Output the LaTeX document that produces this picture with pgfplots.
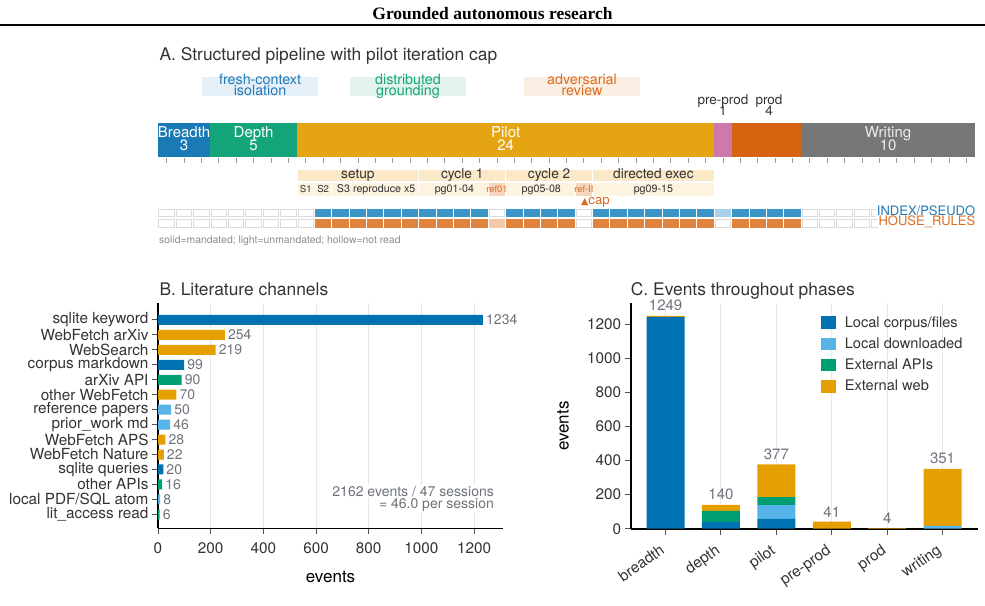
\documentclass[border=0pt]{standalone}
\usepackage{fontspec}
\setmainfont{TeX Gyre Heros}
\newfontfamily\titlefont{Liberation Serif}
\newfontfamily\symfont{DejaVu Sans}
\usepackage{pgfplots}
\pgfplotsset{compat=1.18}
\newcommand{\fsz}[2]{\fontsize{#1pt}{#2pt}\selectfont}
\definecolor{dark}{HTML}{333333}
\definecolor{valgray}{HTML}{6E737B}
\definecolor{notegray}{HTML}{8C8C8C}
\definecolor{gridgray}{HTML}{E6E8EC}
\definecolor{tickgray}{HTML}{555555}
\definecolor{atick}{HTML}{9A9A9A}
\definecolor{cBlue}{HTML}{0072B2}
\definecolor{cLBlue}{HTML}{56B4E9}
\definecolor{cGreen}{HTML}{009E73}
\definecolor{cOrange}{HTML}{E69F00}
\definecolor{pBreadth}{HTML}{1B79B5}
\definecolor{pDepth}{HTML}{14A47A}
\definecolor{pPilot}{HTML}{E5A512}
\definecolor{pPre}{HTML}{CD7AAB}
\definecolor{pProd}{HTML}{D6640F}
\definecolor{pWrite}{HTML}{777777}
\definecolor{tBlue}{HTML}{3C94C7}
\definecolor{tLBlue}{HTML}{A8D0E8}
\definecolor{tOrange}{HTML}{E0833D}
\definecolor{tLOrange}{HTML}{F2CAAB}
\definecolor{hollow}{HTML}{D8DBE0}
\definecolor{lblBlue}{HTML}{2179B6}
\definecolor{lblGreen}{HTML}{17A57B}
\definecolor{lblOrange}{HTML}{DD6B1F}
\definecolor{boxBlue}{HTML}{E5EFF7}
\definecolor{boxGreen}{HTML}{E2F3EE}
\definecolor{boxOrange}{HTML}{FBEEE3}
\definecolor{hdr}{HTML}{FAE8C6}
\definecolor{subr}{HTML}{FDF3DF}
\definecolor{refc}{HTML}{F6D6BD}

\pgfdeclareplotmark{tileS}{\pgfpathrectangle{\pgfqpoint{-8.2pt}{-4.2pt}}{\pgfqpoint{16.4pt}{8.4pt}}\pgfusepathqfill}
\pgfdeclareplotmark{tileH}{\pgfpathrectangle{\pgfqpoint{-7.7pt}{-3.7pt}}{\pgfqpoint{15.4pt}{7.4pt}}\pgfusepathqfillstroke}

\pgfplotsset{/pgf/number format/.cd, 1000 sep={}, assume math mode=true}
\pgfplotsset{sq/.style={legend image code/.code={\fill[#1] (0pt,-6.3pt) rectangle (14.6pt,6.3pt);}}}

\newcommand{\rect}[5]{\addplot[#5] coordinates {(#1,#3) (#2,#3) (#2,#4) (#1,#4)} --cycle;}

\begin{document}
\begin{tikzpicture}
\useasboundingbox (0pt,0pt) rectangle (985pt,605pt);
\node[anchor=base, inner sep=0, font=\titlefont\bfseries\fsz{17.5}{20}] at (492.5pt,585pt) {Grounded autonomous research};
\draw[line width=1.3pt] (0pt,580pt) -- (985pt,580pt);
\node[anchor=base west, inner sep=0, text=dark, font=\fsz{17.4}{20}] at (159.3pt,544.3pt) {A. Structured pipeline with pilot iteration cap};
\node[anchor=base west, inner sep=0, text=dark, font=\fsz{17.4}{20}] at (159.3pt,309pt) {B. Literature channels};
\node[anchor=base west, inner sep=0, text=dark, font=\fsz{17.4}{20}] at (630.7pt,309pt) {C. Events throughout phases};

% ---------------- Panel A ----------------
\begin{axis}[at={(158pt,355pt)}, anchor=south west, scale only axis, width=817pt, height=210pt,
  xmin=0, xmax=47, ymin=-250, ymax=-40, hide axis, clip=false]
% role boxes
\rect{2.53}{9.2}{-77.3}{-95.7}{fill=boxBlue, draw=none}
\rect{11.05}{17.72}{-77.3}{-95.7}{fill=boxGreen, draw=none}
\rect{21.05}{27.73}{-77.3}{-95.7}{fill=boxOrange, draw=none}
\node[anchor=base, inner sep=0, text=lblBlue, font=\fsz{14.3}{16}] at (axis cs:5.87,-85) {fresh-context};
\node[anchor=base, inner sep=0, text=lblBlue, font=\fsz{14.3}{16}] at (axis cs:5.87,-96) {isolation};
\node[anchor=base, inner sep=0, text=lblGreen, font=\fsz{14.3}{16}] at (axis cs:14.38,-85) {distributed};
\node[anchor=base, inner sep=0, text=lblGreen, font=\fsz{14.3}{16}] at (axis cs:14.38,-96) {grounding};
\node[anchor=base, inner sep=0, text=lblOrange, font=\fsz{14.3}{16}] at (axis cs:24.39,-85) {adversarial};
\node[anchor=base, inner sep=0, text=lblOrange, font=\fsz{14.3}{16}] at (axis cs:24.39,-96) {review};
% phase segments (sessions: 3, 5, 24, 1, 4, 10)
\rect{0}{3}{-123.3}{-156.6}{fill=pBreadth, draw=none}
\rect{3}{8}{-123.3}{-156.6}{fill=pDepth, draw=none}
\rect{8}{32}{-123.3}{-156.6}{fill=pPilot, draw=none}
\rect{32}{33}{-123.3}{-156.6}{fill=pPre, draw=none}
\rect{33}{37}{-123.3}{-156.6}{fill=pProd, draw=none}
\rect{37}{47}{-123.3}{-156.6}{fill=pWrite, draw=none}
\node[anchor=base, inner sep=0, text=white, font=\fsz{15}{17}] at (axis cs:1.5,-137.3) {Breadth};
\node[anchor=base, inner sep=0, text=white, font=\fsz{15}{17}] at (axis cs:1.5,-151) {3};
\node[anchor=base, inner sep=0, text=white, font=\fsz{15}{17}] at (axis cs:5.5,-137.3) {Depth};
\node[anchor=base, inner sep=0, text=white, font=\fsz{15}{17}] at (axis cs:5.5,-151) {5};
\node[anchor=base, inner sep=0, text=white, font=\fsz{15}{17}] at (axis cs:20,-137.3) {Pilot};
\node[anchor=base, inner sep=0, text=white, font=\fsz{15}{17}] at (axis cs:20,-151) {24};
\node[anchor=base, inner sep=0, text=black!7, font=\fsz{15}{17}] at (axis cs:42,-137.3) {Writing};
\node[anchor=base, inner sep=0, text=black!7, font=\fsz{15}{17}] at (axis cs:42,-151) {10};
\node[anchor=base, inner sep=0, text=dark, font=\fsz{13.5}{15}] at (axis cs:32.5,-105) {pre-prod};
\node[anchor=base, inner sep=0, text=dark, font=\fsz{13.5}{15}] at (axis cs:32.5,-116) {1};
\node[anchor=base, inner sep=0, text=dark, font=\fsz{13.5}{15}] at (axis cs:35.15,-105) {prod};
\node[anchor=base, inner sep=0, text=dark, font=\fsz{13.5}{15}] at (axis cs:35.15,-116) {4};
% session ticks
\addplot[only marks, mark=|, mark size=2.5pt, mark options={atick, line width=0.8pt}] coordinates {
(0.5,-160.8) (1.5,-160.8) (2.5,-160.8) (3.5,-160.8) (4.5,-160.8) (5.5,-160.8) (6.5,-160.8) (7.5,-160.8)
(8.5,-160.8) (9.5,-160.8) (10.5,-160.8) (11.5,-160.8) (12.5,-160.8) (13.5,-160.8) (14.5,-160.8) (15.5,-160.8)
(16.5,-160.8) (17.5,-160.8) (18.5,-160.8) (19.5,-160.8) (20.5,-160.8) (21.5,-160.8) (22.5,-160.8) (23.5,-160.8)
(24.5,-160.8) (25.5,-160.8) (26.5,-160.8) (27.5,-160.8) (28.5,-160.8) (29.5,-160.8) (30.5,-160.8) (31.5,-160.8)
(32.5,-160.8) (33.5,-160.8) (34.5,-160.8) (35.5,-160.8) (36.5,-160.8) (37.5,-160.8) (38.5,-160.8) (39.5,-160.8)
(40.5,-160.8) (41.5,-160.8) (42.5,-160.8) (43.5,-160.8) (44.5,-160.8) (45.5,-160.8) (46.5,-160.8)};
% pilot structure rows
\rect{8}{15}{-169}{-181.8}{fill=hdr, draw=white, line width=0.8pt}
\rect{15}{20}{-169}{-181.8}{fill=hdr, draw=white, line width=0.8pt}
\rect{20}{25}{-169}{-181.8}{fill=hdr, draw=white, line width=0.8pt}
\rect{25}{32}{-169}{-181.8}{fill=hdr, draw=white, line width=0.8pt}
\rect{8}{9}{-182.6}{-196.7}{fill=subr, draw=white, line width=0.8pt}
\rect{9}{10}{-182.6}{-196.7}{fill=subr, draw=white, line width=0.8pt}
\rect{10}{15}{-182.6}{-196.7}{fill=subr, draw=white, line width=0.8pt}
\rect{15}{19}{-182.6}{-196.7}{fill=subr, draw=white, line width=0.8pt}
\rect{19}{20}{-182.6}{-196.7}{fill=refc, draw=white, line width=0.8pt}
\rect{20}{24}{-182.6}{-196.7}{fill=subr, draw=white, line width=0.8pt}
\rect{24}{25}{-182.6}{-196.7}{fill=refc, draw=white, line width=0.8pt}
\rect{25}{32}{-182.6}{-196.7}{fill=subr, draw=white, line width=0.8pt}
\node[anchor=base, inner sep=0, text=dark, font=\fsz{13.7}{15}] at (axis cs:11.5,-179) {setup};
\node[anchor=base, inner sep=0, text=dark, font=\fsz{13.7}{15}] at (axis cs:17.5,-179) {cycle 1};
\node[anchor=base, inner sep=0, text=dark, font=\fsz{13.7}{15}] at (axis cs:22.5,-179) {cycle 2};
\node[anchor=base, inner sep=0, text=dark, font=\fsz{13.7}{15}] at (axis cs:28.5,-179) {directed exec};
\node[anchor=base, inner sep=0, text=dark, font=\fsz{9.6}{11}] at (axis cs:8.5,-192.5) {S1};
\node[anchor=base, inner sep=0, text=dark, font=\fsz{9.6}{11}] at (axis cs:9.5,-192.5) {S2};
\node[anchor=base, inner sep=0, text=dark, font=\fsz{10.7}{12}] at (axis cs:12.55,-192.5) {S3 reproduce x5};
\node[anchor=base, inner sep=0, text=dark, font=\fsz{10.7}{12}] at (axis cs:17.05,-192.5) {pg01-04};
\node[anchor=base, inner sep=0, text=lblOrange, font=\fsz{9.3}{11}] at (axis cs:19.5,-192.5) {ref01};
\node[anchor=base, inner sep=0, text=dark, font=\fsz{10.7}{12}] at (axis cs:22.05,-192.5) {pg05-08};
\node[anchor=base, inner sep=0, text=lblOrange, font=\fsz{9.3}{11}] at (axis cs:24.5,-192.5) {ref-II};
\node[anchor=base, inner sep=0, text=dark, font=\fsz{10.7}{12}] at (axis cs:28.5,-192.5) {pg09-15};
\node[anchor=base west, inner sep=0, text=lblOrange, font=\fsz{13.2}{15}] at (axis cs:24.33,-204.3) {{\symfont\fsz{9.5}{11}▲}cap};
% tiles: INDEX/PSEUDO row
\addplot[only marks, mark=tileS, color=tBlue] coordinates {
(9.5,-213.3) (10.5,-213.3) (11.5,-213.3) (12.5,-213.3) (13.5,-213.3) (14.5,-213.3) (15.5,-213.3) (16.5,-213.3) (17.5,-213.3) (18.5,-213.3)
(20.5,-213.3) (21.5,-213.3) (22.5,-213.3) (23.5,-213.3)
(25.5,-213.3) (26.5,-213.3) (27.5,-213.3) (28.5,-213.3) (29.5,-213.3) (30.5,-213.3) (31.5,-213.3)
(33.5,-213.3) (34.5,-213.3) (35.5,-213.3) (36.5,-213.3)};
\addplot[only marks, mark=tileS, color=tLBlue] coordinates {(32.5,-213.3)};
\addplot[only marks, mark=tileH, mark options={draw=hollow, fill=white, line width=1pt}] coordinates {
(0.5,-213.3) (1.5,-213.3) (2.5,-213.3) (3.5,-213.3) (4.5,-213.3) (5.5,-213.3) (6.5,-213.3) (7.5,-213.3) (8.5,-213.3)
(19.5,-213.3) (24.5,-213.3)
(37.5,-213.3) (38.5,-213.3) (39.5,-213.3) (40.5,-213.3) (41.5,-213.3) (42.5,-213.3) (43.5,-213.3) (44.5,-213.3) (45.5,-213.3) (46.5,-213.3)};
% tiles: HOUSE_RULES row
\addplot[only marks, mark=tileS, color=tOrange] coordinates {
(9.5,-223.6) (10.5,-223.6) (11.5,-223.6) (12.5,-223.6) (13.5,-223.6) (14.5,-223.6) (15.5,-223.6) (16.5,-223.6) (17.5,-223.6) (18.5,-223.6)
(20.5,-223.6) (21.5,-223.6) (22.5,-223.6) (23.5,-223.6)
(25.5,-223.6) (26.5,-223.6) (27.5,-223.6) (28.5,-223.6) (29.5,-223.6) (30.5,-223.6) (31.5,-223.6)
(33.5,-223.6) (34.5,-223.6) (35.5,-223.6) (36.5,-223.6)};
\addplot[only marks, mark=tileS, color=tLOrange] coordinates {(19.5,-223.6)};
\addplot[only marks, mark=tileH, mark options={draw=hollow, fill=white, line width=1pt}] coordinates {
(0.5,-223.6) (1.5,-223.6) (2.5,-223.6) (3.5,-223.6) (4.5,-223.6) (5.5,-223.6) (6.5,-223.6) (7.5,-223.6) (8.5,-223.6)
(24.5,-223.6) (32.5,-223.6)
(37.5,-223.6) (38.5,-223.6) (39.5,-223.6) (40.5,-223.6) (41.5,-223.6) (42.5,-223.6) (43.5,-223.6) (44.5,-223.6) (45.5,-223.6) (46.5,-223.6)};
\node[anchor=base west, inner sep=0, text=notegray, font=\fsz{10.4}{12}] at (axis cs:0.06,-243.3) {solid=mandated; light=unmandated; hollow=not read};
\end{axis}
% row labels drawn over the tiles
\node[anchor=base east, inner sep=0.6pt, fill=white, text=lblBlue, font=\fsz{13}{15}] at (976pt,389pt) {INDEX/PSEUDO};
\node[anchor=base east, inner sep=0.6pt, fill=white, text=lblOrange, font=\fsz{13}{15}] at (976pt,379.3pt) {HOUSE\_RULES};

% ---------------- Panel B ----------------
\begin{axis}[at={(158pt,76.6pt)}, anchor=south west, scale only axis, width=345pt, height=225.2pt,
  xmin=0, xmax=1310, ymin=-0.94, ymax=14.12, clip=false,
  xbar, bar width=10pt, bar shift=0pt,
  axis x line*=bottom, axis y line*=left,
  axis line style={line width=1.6pt, black},
  tick align=outside, major tick length=6pt,
  tick style={tickgray, line width=1pt},
  xtick={0,200,...,1200}, ytick={0,...,13},
  yticklabels={lit\_access read, local PDF/SQL atom, other APIs, sqlite queries, WebFetch Nature, WebFetch APS, prior\_work md, reference papers, other WebFetch, arXiv API, corpus markdown, WebSearch, WebFetch arXiv, sqlite keyword},
  tick label style={font=\fsz{15.3}{18}, text=dark},
  xticklabel style={yshift=-5pt},
  xmajorgrids, grid style={gridgray, line width=1pt},
  xlabel={events}, xlabel style={font=\fsz{17}{20}, text=black, at={(axis description cs:0.5,-0.2145)}, anchor=center},
  every axis plot/.append style={bar shift=0pt, draw=none, nodes near coords, point meta=x,
     nodes near coords style={font=\fsz{14}{16}, text=valgray, anchor=west, inner xsep=3pt}}]
\addplot[fill=cBlue] coordinates {(1234,13) (99,10) (20,3)};
\addplot[fill=cOrange] coordinates {(254,12) (219,11) (70,8) (28,5) (22,4)};
\addplot[fill=cGreen] coordinates {(90,9) (16,2) (6,0)};
\addplot[fill=cLBlue] coordinates {(50,7) (46,6) (8,1)};
\node[anchor=base east, inner sep=1pt, fill=white, text=valgray, font=\fsz{14}{16}] at (axis cs:1279.7,1.224) {2162 events / 47 sessions};
\node[anchor=base east, inner sep=1pt, fill=white, text=valgray, font=\fsz{14}{16}] at (axis cs:1279.7,0.401) {= 46.0 per session};
\end{axis}

% ---------------- Panel C ----------------
\begin{axis}[at={(630.7pt,76.3pt)}, anchor=south west, scale only axis, width=347.3pt, height=225.4pt,
  xmin=-0.63, xmax=5.64, ymin=0, ymax=1323, clip=false,
  ybar stacked, bar width=38pt,
  axis x line*=bottom, axis y line*=left,
  axis line style={line width=1.6pt, black},
  tick align=outside, major tick length=6pt,
  tick style={tickgray, line width=1pt},
  xtick={0,...,5}, xticklabels={breadth,depth,pilot,pre-prod,prod,writing},
  ytick={0,200,...,1200},
  tick label style={font=\fsz{15.3}{18}, text=dark},
  xticklabel style={rotate=35, anchor=north east, xshift=-7pt},
  xmajorgrids, grid style={gridgray, line width=1pt},
  ylabel={events}, ylabel style={font=\fsz{17}{20}, text=black, at={(axis description cs:-0.195,0.455)}, anchor=center},
  legend style={at={(rel axis cs:0.548,0.9428)}, anchor=north west, draw=none, fill=none,
     font=\fsz{14.6}{17}, text=dark, inner sep=0pt, row sep=8.6pt, column sep=9pt, nodes={inner sep=0pt}},
  legend cell align=left]
\addplot[fill=cBlue, draw=none, sq=cBlue] coordinates {(0,1244) (1,40) (2,57) (3,0) (4,0) (5,0)};
\addlegendentry{\vphantom{Ap}Local corpus/files}
\addplot[fill=cLBlue, draw=none, sq=cLBlue] coordinates {(0,0) (1,0) (2,82) (3,0) (4,0) (5,16)};
\addlegendentry{\vphantom{Ap}Local downloaded}
\addplot[fill=cGreen, draw=none, sq=cGreen] coordinates {(0,0) (1,64) (2,47) (3,0) (4,0) (5,0)};
\addlegendentry{\vphantom{Ap}External APIs}
\addplot[fill=cOrange, draw=none, sq=cOrange] coordinates {(0,5) (1,36) (2,191) (3,41) (4,4) (5,335)};
\addlegendentry{\vphantom{Ap}External web}
\end{axis}
% totals above the stacks (same geometry, not stacked)
\begin{axis}[at={(630.7pt,76.3pt)}, anchor=south west, scale only axis, width=347.3pt, height=225.4pt,
  xmin=-0.63, xmax=5.64, ymin=0, ymax=1323, clip=false, hide axis]
\addplot[draw=none, mark=none, nodes near coords, point meta=explicit symbolic,
   nodes near coords style={font=\fsz{15}{18}, text=valgray, anchor=south, inner sep=4.5pt}]
   coordinates {(0,1249) [1249] (1,140) [140] (2,377) [377] (3,41) [41] (4,4) [4] (5,351) [351]};
\end{axis}
\end{tikzpicture}
\end{document}
